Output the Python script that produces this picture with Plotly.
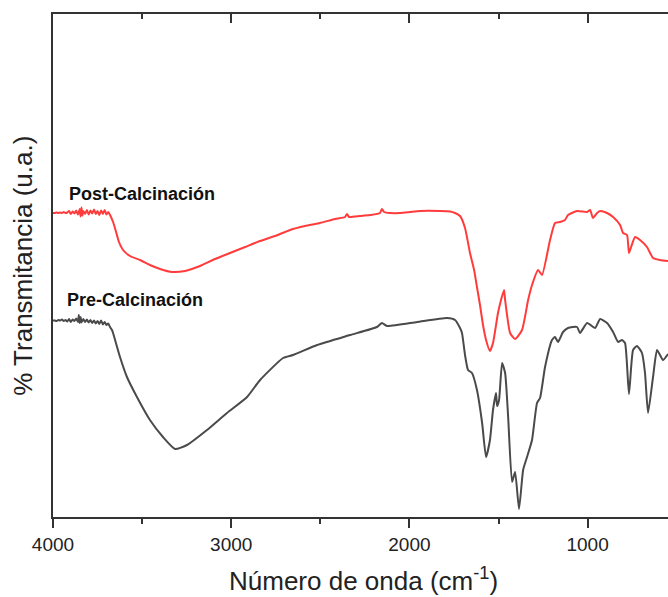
import plotly.graph_objects as go

# FTIR spectra (wavenumber in cm-1, transmittance in arbitrary units, curves offset)
post_wn = [4000, 3990, 3980, 3970, 3960, 3950, 3940, 3930, 3920, 3910, 3900, 3890, 3880, 3870,
           3860, 3850, 3845, 3840, 3835, 3830, 3820, 3810, 3800, 3790, 3780, 3770, 3760, 3750,
           3740, 3730, 3720, 3710, 3700, 3690, 3680, 3663, 3646, 3630,
           3607, 3568, 3512, 3456, 3399, 3332, 3259, 3175, 3091, 3007, 2922, 2838, 2754, 2670,
           2586, 2502, 2417, 2361, 2350, 2339, 2277, 2221, 2165, 2154, 2142, 2109, 2053, 1996,
           1940, 1828, 1772, 1744, 1716, 1688, 1660, 1637, 1621, 1604, 1587, 1570, 1548, 1531,
           1503, 1486, 1469, 1463, 1435, 1407, 1368, 1334, 1312, 1278, 1256, 1211, 1183, 1155,
           1127, 1110, 1059, 1003, 986, 970, 947, 930, 891, 857, 818, 801, 779, 768, 756, 734,
           706, 667, 633, 594, 549]
post_t = [60.8, 60.8, 60.9, 60.8, 60.9, 60.8, 61.0, 60.8, 60.9, 61.2, 60.6, 61.1, 60.7, 61.3,
          60.5, 61.6, 60.1, 61.9, 60.3, 61.2, 60.6, 61.4, 60.5, 61.3, 60.7, 61.5, 60.6, 61.2,
          60.4, 61.3, 60.6, 61.4, 60.5, 61.0, 60.4, 59.0, 57.0, 55.0,
          53.4, 52.2, 51.4, 50.4, 49.6, 49.0, 49.2, 50.2, 51.6, 52.8, 54.0, 55.2, 56.2, 57.4,
          58.2, 58.8, 59.6, 60.0, 60.6, 60.0, 60.2, 60.4, 60.8, 61.6, 61.0, 60.8, 60.8, 61.0,
          61.2, 61.2, 61.1, 60.8, 60.2, 57.8, 52.8, 49.4, 46.0, 42.4, 38.4, 35.4, 33.2, 34.8,
          40.8, 43.4, 45.4, 43.4, 36.8, 35.6, 37.4, 43.4, 46.4, 49.4, 48.4, 55.4, 58.8, 59.0,
          59.4, 60.4, 61.2, 61.0, 61.4, 59.8, 60.8, 61.2, 60.8, 60.0, 58.4, 56.8, 56.4, 52.8,
          54.0, 56.0, 55.4, 54.0, 51.8, 51.4, 51.2]

pre_wn = [4000, 3990, 3980, 3970, 3960, 3950, 3940, 3930, 3920, 3910, 3900, 3890, 3880, 3870,
          3860, 3855, 3850, 3845, 3840, 3830, 3820, 3810, 3800, 3790, 3780, 3770, 3760, 3750,
          3740, 3730, 3720, 3710, 3700, 3690, 3680, 3669, 3663, 3624, 3585,
          3529, 3456, 3383, 3315, 3248, 3136, 3024, 2911, 2838, 2709, 2653, 2518, 2333, 2182,
          2154, 2126, 1957, 1789, 1744, 1716, 1705, 1688, 1671, 1649, 1621, 1592, 1570, 1548,
          1531, 1514, 1508, 1497, 1480, 1463, 1446, 1424, 1407, 1385, 1362, 1340, 1312, 1284,
          1267, 1239, 1200, 1183, 1166, 1138, 1110, 1059, 1043, 1003, 958, 930, 891, 857, 829,
          807, 790, 768, 745, 723, 695, 678, 661, 633, 611, 594, 577, 549]
pre_t = [39.3, 39.3, 39.2, 39.4, 39.3, 39.5, 39.2, 39.4, 39.1, 39.6, 39.0, 39.5, 39.2, 39.7,
         39.0, 40.4, 38.8, 40.0, 38.9, 39.6, 39.0, 39.5, 38.9, 39.4, 38.8, 39.3, 38.7, 39.2,
         38.6, 39.3, 38.5, 39.0, 38.4, 38.7, 38.0, 37.4, 36.8, 32.0, 28.0,
         24.0, 19.4, 16.0, 13.6, 14.4, 17.4, 20.8, 24.0, 27.4, 31.8, 32.4, 34.4, 36.4, 38.0,
         38.8, 38.2, 39.0, 39.8, 39.4, 37.8, 36.8, 32.4, 29.4, 28.8, 25.4, 18.8, 12.0, 15.4,
         21.4, 24.8, 22.2, 23.4, 30.8, 28.8, 20.0, 7.0, 9.0, 1.6, 9.4, 12.0, 15.4, 22.8,
         23.8, 30.0, 35.4, 36.0, 35.0, 37.0, 37.8, 38.0, 36.8, 38.8, 37.8, 39.6, 38.8, 37.0, 35.0,
         35.4, 34.8, 24.6, 33.4, 34.2, 32.8, 28.8, 20.8, 28.0, 33.4, 32.4, 31.4, 32.6]

x_range = [4000, 549]
y_range = [0, 100.6]
x_ticks = [4000, 3000, 2000, 1000]

FONT = "Liberation Sans, Arial, sans-serif"
AXIS_COLOR = "#333333"

fig = go.Figure()
fig.add_trace(go.Scatter(x=post_wn, y=post_t, mode="lines", name="Post-Calcinación",
                         line=dict(color="#FF3B3B", width=2, shape="spline", smoothing=0.5)))
fig.add_trace(go.Scatter(x=pre_wn, y=pre_t, mode="lines", name="Pre-Calcinación",
                         line=dict(color="#4A4A4A", width=2, shape="spline", smoothing=0.5),
                         xaxis="x2"))

fig.update_layout(
    width=668, height=597,
    margin=dict(l=53, r=0, t=14, b=80),
    paper_bgcolor="white", plot_bgcolor="white",
    showlegend=False,
    font=dict(family=FONT, color="#222222"),
    xaxis=dict(range=x_range, tickvals=x_ticks, ticktext=[str(v) for v in x_ticks],
               ticks="outside", ticklen=9, tickwidth=2, tickcolor=AXIS_COLOR,
               minor=dict(dtick=500, tick0=0, ticks="outside", ticklen=5, tickwidth=2,
                          tickcolor=AXIS_COLOR),
               showline=True, linewidth=2, linecolor=AXIS_COLOR, showgrid=False,
               zeroline=False, tickfont=dict(size=19, family=FONT, color="#222222")),
    xaxis2=dict(range=x_range, overlaying="x", side="top", anchor="y",
                tickvals=x_ticks, showticklabels=False,
                ticks="inside", ticklen=9, tickwidth=2, tickcolor=AXIS_COLOR,
                minor=dict(dtick=500, tick0=0, ticks="inside", ticklen=5, tickwidth=2,
                           tickcolor=AXIS_COLOR),
                showline=True, linewidth=2, linecolor=AXIS_COLOR, showgrid=False,
                zeroline=False),
    yaxis=dict(range=y_range, showticklabels=False, ticks="", showline=True,
               linewidth=2, linecolor=AXIS_COLOR, showgrid=False, zeroline=False),
)

# axis titles
fig.add_annotation(text="Número de onda (cm<sup>-1</sup>)", xref="paper", yref="paper",
                   x=0.505, y=-0.125, xanchor="center", yanchor="middle", showarrow=False,
                   font=dict(size=26, family=FONT, color="#222222"))
fig.add_annotation(text="% Transmitancia (u.a.)", xref="paper", yref="paper",
                   x=-0.05, y=0.50, xanchor="center", yanchor="middle", textangle=-90,
                   showarrow=False, font=dict(size=26, family=FONT, color="#222222"))

# curve labels
fig.add_annotation(text="<b>Post-Calcinación</b>", xref="x", yref="y", x=3920, y=64.6,
                   xanchor="left", yanchor="middle", showarrow=False,
                   font=dict(size=18, family=FONT, color="#111111"))
fig.add_annotation(text="<b>Pre-Calcinación</b>", xref="x", yref="y", x=3935, y=43.4,
                   xanchor="left", yanchor="middle", showarrow=False,
                   font=dict(size=18, family=FONT, color="#111111"))

fig.write_html("out.html")
